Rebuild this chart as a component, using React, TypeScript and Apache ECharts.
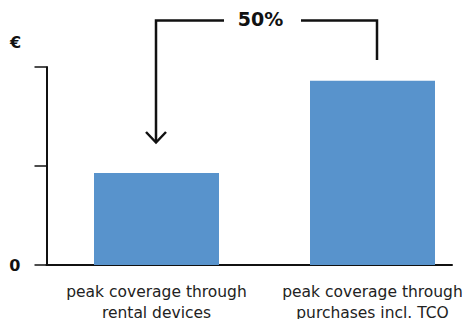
import React, { useEffect, useRef } from "react";
import * as echarts from "echarts";

const categories = ["peak coverage through\nrental devices", "peak coverage through\npurchases incl. TCO"];
const values = [0.93, 1.86];
const yTicks = [0, 1, 2];
const annotation = "50%";
const unitLabel = "€";

export default function App() {
  const ref = useRef<HTMLDivElement>(null);
  useEffect(() => {
    if (!ref.current) return;
    const chart = echarts.init(ref.current, null, { renderer: "svg" });
    const ink = "#111111";
    const font = "'DejaVu Sans', sans-serif";
    chart.setOption({
      animation: false,
      backgroundColor: "#ffffff",
      grid: [
        { left: 48.5, top: 67, width: 432, height: 198, containLabel: false, outerBoundsMode: "none" },
        { left: 46.5, top: 67, right: 11, height: 198, containLabel: false, outerBoundsMode: "none" },
      ],
      xAxis: [
        {
          type: "category",
          gridIndex: 0,
          data: categories,
          axisLine: { show: false },
          axisTick: { show: false },
          axisLabel: {
            color: "#222",
            fontFamily: font,
            fontSize: 15.5,
            lineHeight: 21.5,
            margin: 16,
            interval: 0,
          },
        },
        {
          type: "category",
          gridIndex: 1,
          data: categories,
          axisLine: { show: true, lineStyle: { color: ink, width: 2 } },
          axisTick: { show: false },
          axisLabel: { show: false },
        },
      ],
      yAxis: [
        {
          type: "value",
          gridIndex: 0,
          min: yTicks[0],
          max: yTicks[yTicks.length - 1],
          interval: 1,
          show: false,
          splitLine: { show: false },
        },
        {
          type: "value",
          gridIndex: 1,
          min: yTicks[0],
          max: yTicks[yTicks.length - 1],
          interval: 1,
          splitLine: { show: false },
          axisLine: { show: true, lineStyle: { color: ink, width: 2 } },
          axisTick: { show: true, length: 12, lineStyle: { color: ink, width: 1.5 } },
          axisLabel: {
            formatter: (v: number) => (v === 0 ? "0" : ""),
            color: ink,
            fontFamily: font,
            fontWeight: "bold",
            fontSize: 16,
            margin: 26,
          },
        },
      ],
      series: [
        {
          type: "bar",
          xAxisIndex: 0,
          yAxisIndex: 0,
          data: values,
          barWidth: 125,
          itemStyle: { color: "#5893cc" },
        },
      ],
      graphic: [
        {
          type: "text",
          left: 10,
          top: 34,
          style: { text: unitLabel, font: `bold 16px ${font}`, fill: ink },
        },
        {
          type: "text",
          x: 260.5,
          y: 19,
          style: {
            text: annotation,
            font: `bold 19px ${font}`,
            fill: ink,
            align: "center",
            verticalAlign: "middle",
          },
        },
        {
          type: "polyline",
          shape: { points: [[224, 20.5], [156, 20.5], [156, 142]] },
          style: { stroke: ink, lineWidth: 2.5, fill: null, lineJoin: "miter" },
        },
        {
          type: "polyline",
          shape: { points: [[146, 132], [156, 142.5], [166, 132]] },
          style: { stroke: ink, lineWidth: 2.5, fill: null, lineJoin: "miter" },
        },
        {
          type: "polyline",
          shape: { points: [[301, 20.5], [377, 20.5], [377, 60]] },
          style: { stroke: ink, lineWidth: 2.5, fill: null, lineJoin: "miter" },
        },
      ],
    });
    return () => chart.dispose();
  }, []);
  return (
    <div
      ref={ref}
      style={{ position: "fixed", left: 0, top: 0, width: 463, height: 319, background: "#fff" }}
    />
  );
}
